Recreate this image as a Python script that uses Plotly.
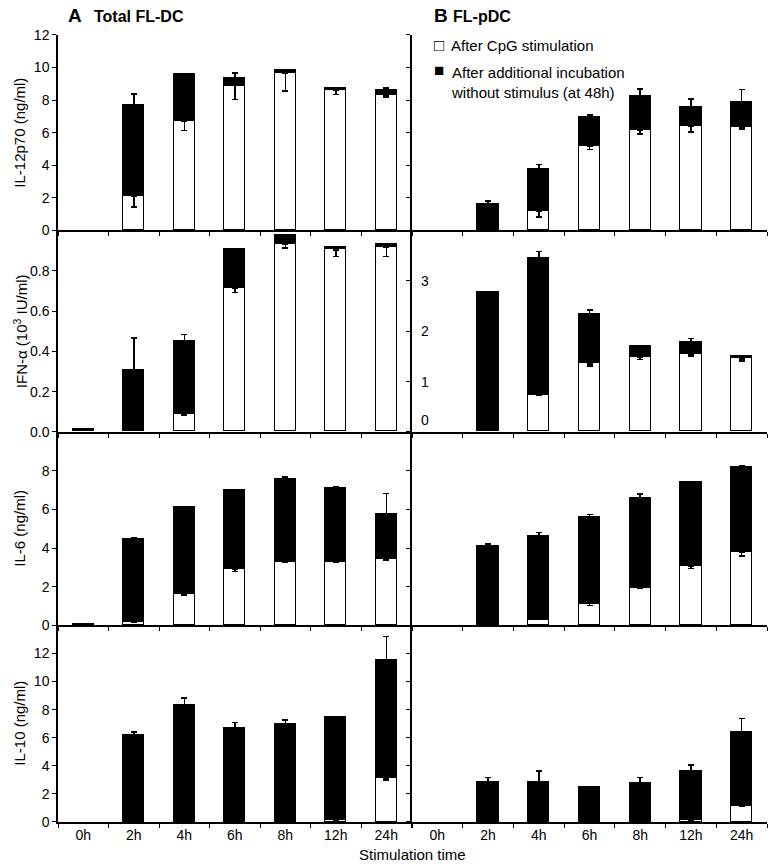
import plotly.graph_objects as go
from plotly.subplots import make_subplots

categories = ["0h", "2h", "4h", "6h", "8h", "12h", "24h"]

# Panel A: Total FL-DC
il12_dc_white = [0, 2.10, 6.70, 8.90, 9.65, 8.63, 8.32]
il12_dc_black = [0, 5.55, 2.87, 0.38, 0.12, 0.04, 0.27]
il12_dc_err_up = [0, 0.73, 0.02, 0.37, 0.02, 0.00, 0.16]
il12_dc_err_down = [0, 0.66, 0.56, 0.86, 1.10, 0.29, 0.14]

ifn_dc_white = [0, 0, 0.089, 0.712, 0.932, 0.904, 0.917]
ifn_dc_black = [0.012, 0.306, 0.362, 0.195, 0.042, 0.012, 0.012]
ifn_dc_err_up = [0.005, 0.16, 0.033, 0.003, 0.003, 0.005, 0.005]
ifn_dc_err_down = [0, 0, 0.006, 0.019, 0.020, 0.033, 0.046]

il6_dc_white = [0, 0.17, 1.61, 2.90, 3.28, 3.30, 3.44]
il6_dc_black = [0.02, 4.27, 4.47, 4.04, 4.24, 3.78, 2.29]
il6_dc_err_up = [0, 0.09, 0.05, 0.04, 0.14, 0.09, 1.09]
il6_dc_err_down = [0, 0.03, 0.06, 0.12, 0.03, 0.03, 0.09]

il10_dc_white = [0, 0, 0, 0, 0, 0.10, 3.13]
il10_dc_black = [0, 6.16, 8.33, 6.68, 6.97, 7.35, 8.35]
il10_dc_err_up = [0, 0.24, 0.50, 0.41, 0.29, 0.07, 1.72]
il10_dc_err_down = [0, 0, 0, 0, 0, 0, 0.13]

# Panel B: FL-pDC
il12_pdc_white = [0, 0.04, 1.18, 5.16, 6.16, 6.41, 6.33]
il12_pdc_black = [0, 1.53, 2.51, 1.74, 2.06, 1.10, 1.47]
il12_pdc_err_up = [0, 0.25, 0.35, 0.20, 0.45, 0.55, 0.85]
il12_pdc_err_down = [0, 0, 0.36, 0.18, 0.24, 0.37, 0.09]

ifn_pdc_white = [0, 0, 0.726, 1.35, 1.48, 1.54, 1.45]
ifn_pdc_black = [0, 2.77, 2.714, 0.99, 0.21, 0.24, 0.05]
ifn_pdc_err_up = [0, 0.01, 0.14, 0.08, 0.01, 0.07, 0.02]
ifn_pdc_err_down = [0, 0, 0, 0.04, 0.04, 0.03, 0.04]

il6_pdc_white = [0, 0.05, 0.31, 1.13, 1.94, 3.06, 3.78]
il6_pdc_black = [0, 4.03, 4.27, 4.41, 4.62, 4.30, 4.38]
il6_pdc_err_up = [0, 0.14, 0.23, 0.19, 0.23, 0.09, 0.09]
il6_pdc_err_down = [0, 0, 0, 0.09, 0.03, 0.11, 0.19]

il10_pdc_white = [0, 0, 0, 0, 0.05, 0.14, 1.10]
il10_pdc_black = [0, 2.79, 2.79, 2.43, 2.69, 3.46, 5.25]
il10_pdc_err_up = [0, 0.36, 0.84, 0.10, 0.43, 0.46, 1.02]
il10_pdc_err_down = [0, 0, 0, 0, 0, 0, 0]

ifn_pdc_tick_labels = ["0", "1", "2", "3"]
ifn_pdc_tick_values = [0, 1, 2, 3]

y_titles = ["IL-12p70 (ng/ml)", "IFN-α (10<sup>3</sup> IU/ml)", "IL-6 (ng/ml)", "IL-10 (ng/ml)"]

panels = [
    (1, 1, il12_dc_white, il12_dc_black, il12_dc_err_up, il12_dc_err_down),
    (1, 2, il12_pdc_white, il12_pdc_black, il12_pdc_err_up, il12_pdc_err_down),
    (2, 1, ifn_dc_white, ifn_dc_black, ifn_dc_err_up, ifn_dc_err_down),
    (2, 2, ifn_pdc_white, ifn_pdc_black, ifn_pdc_err_up, ifn_pdc_err_down),
    (3, 1, il6_dc_white, il6_dc_black, il6_dc_err_up, il6_dc_err_down),
    (3, 2, il6_pdc_white, il6_pdc_black, il6_pdc_err_up, il6_pdc_err_down),
    (4, 1, il10_dc_white, il10_dc_black, il10_dc_err_up, il10_dc_err_down),
    (4, 2, il10_pdc_white, il10_pdc_black, il10_pdc_err_up, il10_pdc_err_down),
]

FONT = "Liberation Sans, Arial, Helvetica, sans-serif"
W, H = 771, 866


def sy(y):
    # vertical placement tuned to the photographed page
    return (y - 7) / 0.984


def nz(vals):
    # zero-height segments are not drawn in the original
    return [v if v else None for v in vals]


fig = make_subplots(rows=4, cols=2, horizontal_spacing=0, vertical_spacing=0)

BW = 0.42
for r, c, white, black, eup, edown in panels:
    fig.add_trace(go.Bar(
        x=categories, y=nz(white), width=BW,
        marker=dict(color="white", line=dict(color="black", width=1.5)),
        error_y=dict(type="data", symmetric=False, array=[0] * len(white), arrayminus=edown,
                     color="black", thickness=1.5, width=3),
        showlegend=False, name="After CpG stimulation"), row=r, col=c)
    fig.add_trace(go.Bar(
        x=categories, y=nz(black), width=BW,
        marker=dict(color="black", line=dict(color="black", width=1.5)),
        error_y=dict(type="data", symmetric=False, array=eup, arrayminus=[0] * len(black),
                     color="black", thickness=1.5, width=3),
        showlegend=False, name="After additional incubation without stimulus (at 48h)"), row=r, col=c)

x_dom = {1: [58 / W, 411.5 / W], 2: [412 / W, 767 / W]}
y_px = {1: (34, 230), 2: (230, 432), 3: (432, 626), 4: (626, 823)}
y_ranges = {(1, 1): [0, 12], (1, 2): [0, 12], (2, 1): [0, 1.0], (2, 2): [0, 4],
            (3, 1): [0, 10], (3, 2): [0, 10], (4, 1): [0, 14], (4, 2): [0, 14]}
y_ticks = {(1, 1): [0, 2, 4, 6, 8, 10, 12], (1, 2): [0, 2, 4, 6, 8, 10, 12],
           (2, 1): [0, 0.2, 0.4, 0.6, 0.8], (2, 2): [0, 1, 2, 3],
           (3, 1): [0, 2, 4, 6, 8], (3, 2): [0, 2, 4, 6, 8],
           (4, 1): [0, 2, 4, 6, 8, 10, 12], (4, 2): [0, 2, 4, 6, 8, 10, 12]}

for r in range(1, 5):
    for c in range(1, 3):
        idx = (r - 1) * 2 + c
        sfx = "" if idx == 1 else str(idx)
        top, bot = y_px[r]
        ydom = [1 - sy(bot) / H, 1 - sy(top) / H]
        fig.layout["xaxis" + sfx].update(
            domain=x_dom[c], type="category", tickson="boundaries", ticks="outside",
            ticklen=4, tickwidth=1.3, tickcolor="black", showline=True, linecolor="black",
            linewidth=1.5, showgrid=False, zeroline=False, range=[-0.5, 6.5],
            showticklabels=(r == 4), tickfont=dict(family=FONT, size=14, color="black"),
            fixedrange=True)
        yfmt = ".1f" if (r, c) == (2, 1) else "d"
        fig.layout["yaxis" + sfx].update(
            domain=ydom, range=y_ranges[(r, c)], tickvals=y_ticks[(r, c)], tickformat=yfmt,
            ticks="outside", ticklen=4, tickwidth=1.3, tickcolor="black",
            showline=True, linecolor="black", linewidth=1.5, showgrid=False, zeroline=False,
            showticklabels=(c == 1),
            tickfont=dict(family=FONT, size=14, color="black"), fixedrange=True)

annotations = []
for r in range(1, 5):
    top, bot = y_px[r]
    annotations.append(dict(
        text=y_titles[r - 1], xref="paper", yref="paper", x=20 / W,
        y=1 - sy((top + bot) / 2) / H,
        xanchor="center", yanchor="middle", textangle=-90, showarrow=False,
        font=dict(family=FONT, size=15, color="black")))

# inside tick labels of the FL-pDC IFN-alpha panel
for lab, val in zip(ifn_pdc_tick_labels, ifn_pdc_tick_values):
    annotations.append(dict(
        text=lab, xref="x4 domain", yref="y4", x=0.02, y=val,
        xanchor="left", yanchor="bottom" if val == 0 else "middle", yshift=2 if val == 0 else 0,
        showarrow=False, font=dict(family=FONT, size=14, color="black")))


def ann(text, x, y, size, xanchor="left", yanchor="middle"):
    annotations.append(dict(text=text, xref="paper", yref="paper", x=x / W, y=1 - sy(y) / H,
                            xanchor=xanchor, yanchor=yanchor, showarrow=False, align="left",
                            font=dict(family=FONT, size=size, color="black")))


ann("<b>A</b>", 66, 15, 19)
ann("<b>Total FL-DC</b>", 92, 16, 16)
ann("<b>B</b>", 432, 15, 19)
ann("<b>FL-pDC</b>", 451, 16, 16)
ann("□", 432, 45, 17)
ann("After CpG stimulation", 449, 45, 15)
ann("■", 432, 70, 17)
ann("After additional incubation<br>without stimulus (at 48h)", 449, 61, 15, yanchor="top")
ann("Stimulation time", 412, 856, 15, xanchor="center")

fig.update_layout(
    width=W, height=H, margin=dict(l=0, r=0, t=0, b=0),
    paper_bgcolor="white", plot_bgcolor="white", barmode="stack", bargap=0,
    font=dict(family=FONT, size=14, color="black"),
    annotations=annotations, showlegend=False)

fig.write_html(
    "out.html",
    config={"displayModeBar": False},
    post_script=(
        "document.body.style.margin='0';document.body.style.padding='0';"
        "document.documentElement.style.overflow='hidden';"
        "var gd=document.getElementById('{plot_id}');"
        "gd.style.position='fixed';gd.style.top='0px';gd.style.left='0px';"
    ),
)
